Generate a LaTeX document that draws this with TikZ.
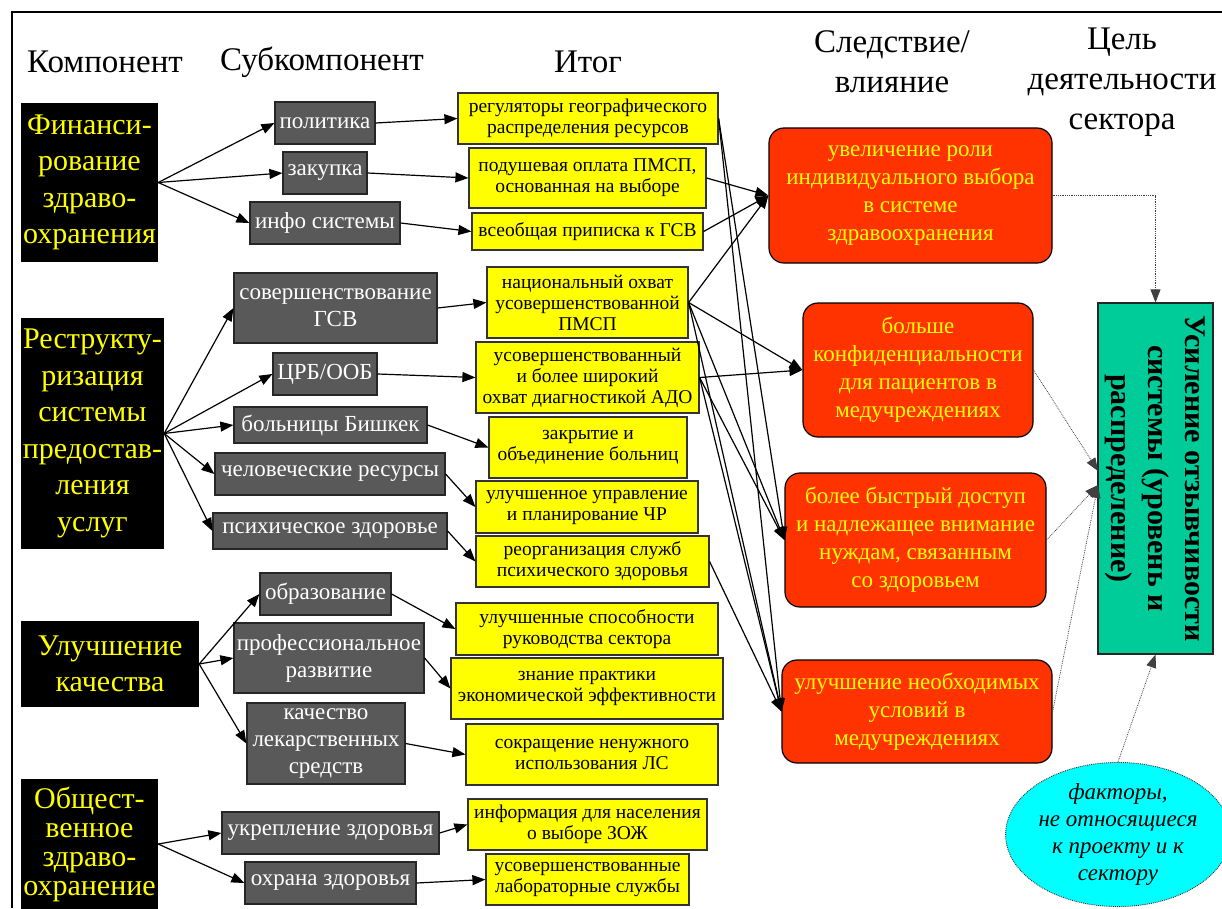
\documentclass[tikz,border=0pt]{standalone}
\usepackage{fontspec}
\setmainfont{Liberation Serif}
\usetikzlibrary{arrows.meta,shapes.geometric}
\definecolor{subgray}{HTML}{595959}
\definecolor{outyellow}{HTML}{FFFF00}
\definecolor{effred}{HTML}{FF3300}
\definecolor{goalgreen}{HTML}{00CC99}
\definecolor{factcyan}{HTML}{00FFFF}
\definecolor{txtyellow}{HTML}{FFFF00}

\begin{document}
\begin{tikzpicture}[
  x=1pt, y=-1pt,
  >={Triangle[length=13pt,width=10pt]},
  head/.style={font=\fontsize{33}{40}\selectfont, align=center, inner sep=0pt},
  comp/.style={rectangle, fill=black, text=txtyellow, font=\fontsize{30}{36.5}\selectfont, align=center, inner sep=0pt},
  sub/.style={rectangle, draw=black!85, line width=1.2pt, fill=subgray, text=white, font=\fontsize{23}{27}\selectfont, align=center, inner sep=0pt},
  outcome/.style={rectangle, draw=black!80, line width=1.2pt, fill=outyellow, font=\fontsize{19.5}{21}\selectfont, align=center, inner sep=0pt},
  effect/.style={rectangle, rounded corners=15pt, draw=black, line width=1.2pt, fill=effred, text=txtyellow, font=\fontsize{23}{28}\selectfont, align=center, inner sep=0pt},
  goal/.style={rectangle, draw=black!85, line width=1.2pt, fill=goalgreen, font=\bfseries\fontsize{30}{37}\selectfont, align=center, inner sep=0pt},
  extern/.style={ellipse, draw=black!80, densely dotted, line width=0.9pt, fill=factcyan, font=\itshape\fontsize{23}{27}\selectfont, align=center, inner sep=0pt},
  arrow/.style={->, line width=1.2pt},
  link/.style={->, line width=0.8pt, densely dotted, draw=black!75}
]
\useasboundingbox (0,0) rectangle (1222,908);
\draw[line width=2.5pt] (12,908) -- (12,12) -- (1222,12);

% column heads
\node[head] (hcomp) at (105,62) {Компонент};
\node[head] (hsub) at (322,62) {Субкомпонент};
\node[head] (hout) at (588,62) {Итог};
\node[head] (heff) at (892,62) {Следствие/\\влияние};
\node[head] (hgoal) at (1122,82) {Цель\\деятельности\\сектора};

% components
\node[comp, minimum width=137pt, minimum height=159pt] (fin) at (89.5,182.5) {Финанси-\\рование\\здраво-\\охранения};
\node[comp, minimum width=143pt, minimum height=231pt] (restr) at (92.5,433.5) {Реструкту-\\ризация\\системы\\предостав-\\ления\\услуг};
\node[comp, minimum width=178pt, minimum height=86pt] (qual) at (110,664) {Улучшение\\качества};
\node[comp, font=\fontsize{30}{29}\selectfont, minimum width=137pt, minimum height=130pt] (pub) at (89.5,844) {Общест-\\венное\\здраво-\\охранение};

% subcomponents
\node[sub, minimum width=100pt, minimum height=42pt] (pol) at (325,123) {политика};
\node[sub, minimum width=84pt, minimum height=42pt] (zak) at (325,173) {закупка};
\node[sub, minimum width=150pt, minimum height=42pt] (info) at (325,223) {инфо системы};
\node[sub, minimum width=203pt, minimum height=70pt] (gsv) at (335.5,308) {совершенствование\\ГСВ};
\node[sub, minimum width=104pt, minimum height=42pt] (crb) at (325,374) {ЦРБ/ООБ};
\node[sub, minimum width=193pt, minimum height=36pt] (bish) at (330.5,425) {больницы Бишкек};
\node[sub, minimum width=230pt, minimum height=42pt] (hr) at (330,474) {человеческие ресурсы};
\node[sub, minimum width=234pt, minimum height=36pt] (mh) at (330,531) {психическое здоровье};
\node[sub, minimum width=131pt, minimum height=42pt] (edu) at (325.5,594) {образование};
\node[sub, minimum width=190pt, minimum height=70pt] (prof) at (329,658) {профессиональное\\развитие};
\node[sub, minimum width=158pt, minimum height=81pt] (drug) at (326,743.5) {качество\\лекарственных\\средств};
\node[sub, minimum width=217pt, minimum height=42pt] (hprom) at (330.5,833) {укрепление здоровья};
\node[sub, minimum width=171pt, minimum height=42pt] (hprot) at (330.5,883) {охрана здоровья};

% outcomes
\node[outcome, minimum width=260pt, minimum height=51pt] (reg) at (588,118.5) {регуляторы географического\\распределения ресурсов};
\node[outcome, minimum width=237pt, minimum height=60pt] (pay) at (587.5,178) {подушевая оплата ПМСП,\\основанная на выборе};
\node[outcome, minimum width=231pt, minimum height=37pt] (enrol) at (587.5,231.5) {всеобщая приписка к ГСВ};
\node[outcome, minimum width=201pt, minimum height=71pt] (cover) at (587.5,302.5) {национальный охват\\усовершенствованной\\ПМСП};
\node[outcome, minimum width=223pt, minimum height=71pt] (diag) at (587.5,377.5) {усовершенствованный\\и более широкий\\охват диагностикой АДО};
\node[outcome, minimum width=198pt, minimum height=61pt] (merge) at (588,447.5) {закрытие и\\объединение больниц};
\node[outcome, minimum width=222pt, minimum height=52pt] (hrplan) at (587,507) {улучшенное управление\\и планирование ЧР};
\node[outcome, minimum width=233pt, minimum height=51pt] (mhserv) at (592.5,561.5) {реорганизация служб\\психического здоровья};
\node[outcome, minimum width=262pt, minimum height=52pt] (lead) at (587,629) {улучшенные способности\\руководства сектора};
\node[outcome, minimum width=272pt, minimum height=61pt] (econ) at (587,688.5) {знание практики\\экономической эффективности};
\node[outcome, minimum width=252pt, minimum height=61pt] (rational) at (592,754.5) {сокращение ненужного\\использования ЛС};
\node[outcome, minimum width=239pt, minimum height=51pt] (lifestyle) at (587.5,824.5) {информация для населения\\о выборе ЗОЖ};
\node[outcome, minimum width=203pt, minimum height=51pt] (lab) at (587.5,879.5) {усовершенствованные\\лабораторные службы};

% effects
\node[effect, minimum width=283pt, minimum height=135pt] (choice) at (910.5,195.5) {увеличение роли\\индивидуального выбора\\в системе\\здравоохранения};
\node[effect, minimum width=230pt, minimum height=134pt] (privacy) at (918,370) {больше\\конфиденциальности\\для пациентов в\\медучреждениях};
\node[effect, minimum width=261pt, minimum height=134pt] (access) at (915.5,540) {более быстрый доступ\\и надлежащее внимание\\нуждам, связанным\\со здоровьем};
\node[effect, minimum width=270pt, minimum height=103pt] (facil) at (917,711.5) {улучшение необходимых\\условий в\\медучреждениях};

% goal and outside factors
\node[goal, rotate=-90, minimum width=351pt, minimum height=115pt] (goal) at (1155.5,478.5) {Усиление отзывчивости\\системы (уровень и\\распределение)};
\node[extern, minimum width=202pt, minimum height=129pt] (factors) at (1118,834.5) {факторы,\\не относящиеся\\к проекту и к\\сектору};
\coordinate (gin1) at (1098,471);
\coordinate (gin2) at (1098,485);

% component -> subcomponent
\draw[arrow] (fin.east) -- (pol.west);
\draw[arrow] (fin.east) -- (zak.west);
\draw[arrow] (fin.east) -- (info.west);
\draw[arrow] (restr.east) -- (gsv.west);
\draw[arrow] (restr.east) -- (crb.west);
\draw[arrow] (restr.east) -- (bish.west);
\draw[arrow] (restr.east) -- (hr.west);
\draw[arrow] (restr.east) -- (mh.west);
\draw[arrow] (qual.east) -- (edu.west);
\draw[arrow] (qual.east) -- (prof.west);
\draw[arrow] (qual.east) -- (drug.west);
\draw[arrow] (pub.east) -- (hprom.west);
\draw[arrow] (pub.east) -- (hprot.west);

% subcomponent -> outcome
\draw[arrow] (pol.east) -- (reg.west);
\draw[arrow] (zak.east) -- (pay.west);
\draw[arrow] (info.east) -- (enrol.west);
\draw[arrow] (gsv.east) -- (cover.west);
\draw[arrow] (crb.east) -- (diag.west);
\draw[arrow] (bish.east) -- (merge.west);
\draw[arrow] (hr.east) -- (hrplan.west);
\draw[arrow] (mh.east) -- (mhserv.west);
\draw[arrow] (edu.east) -- (lead.west);
\draw[arrow] (prof.east) -- (econ.west);
\draw[arrow] (drug.east) -- (rational.west);
\draw[arrow] (hprom.east) -- (lifestyle.west);
\draw[arrow] (hprot.east) -- (lab.west);

% outcome -> effect
\draw[arrow] (pay.east) -- (choice.west);
\draw[arrow] (enrol.east) -- (choice.west);
\draw[arrow] (cover.east) -- (choice.west);
\draw[arrow] (cover.east) -- (privacy.west);
\draw[arrow] (diag.east) -- (privacy.west);
\draw[arrow] (reg.east) -- (access.west);
\draw[arrow] (cover.east) -- (access.west);
\draw[arrow] (diag.east) -- (access.west);
\draw[arrow] (reg.east) -- (facil.west);
\draw[arrow] (cover.east) -- (facil.west);
\draw[arrow] (diag.east) -- (facil.west);
\draw[arrow] (mhserv.east) -- (facil.west);

% effect -> goal
\draw[link] (choice.east) -| (goal.west);
\draw[link] (privacy.east) -- (gin1);
\draw[link] (access.east) -- (gin2);
\draw[link] (facil.east) -- (gin2);
\draw[link] (factors.north) -- (goal.east);
\end{tikzpicture}
\end{document}
